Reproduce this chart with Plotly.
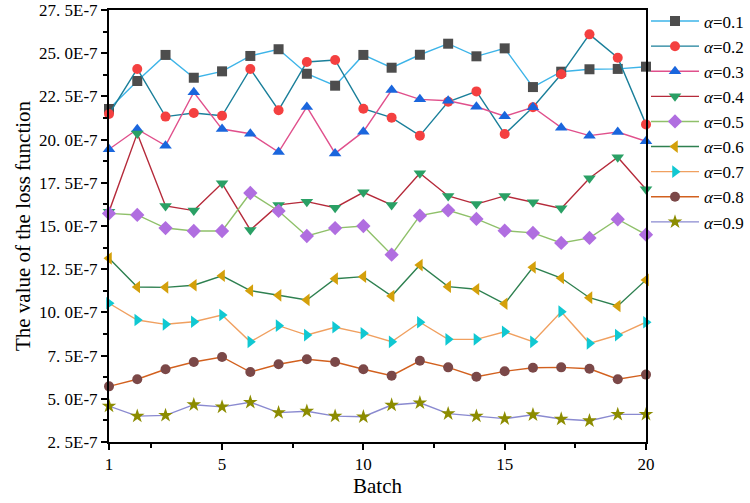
import plotly.graph_objects as go

batch = list(range(1, 21))
labels = ["0.1", "0.2", "0.3", "0.4", "0.5", "0.6", "0.7", "0.8", "0.9"]

a01 = [21.77, 23.39, 24.90, 23.58, 23.95, 24.84, 25.23, 23.81, 23.12, 24.90,
       24.16, 24.91, 25.55, 24.82, 25.28, 23.04, 23.93, 24.07, 24.09, 24.22]
a02 = [21.48, 24.09, 21.33, 21.54, 21.38, 24.09, 21.70, 24.49, 24.61, 21.79,
       21.27, 20.23, 22.19, 22.79, 20.32, 21.87, 23.78, 26.09, 24.74, 20.88]
a03 = [19.44, 20.60, 19.65, 22.74, 20.61, 20.34, 19.28, 21.89, 19.20, 20.46,
       22.87, 22.33, 22.25, 21.90, 21.35, 21.87, 20.69, 20.23, 20.44, 19.90]
a04 = [15.83, 20.36, 16.16, 15.89, 17.47, 14.77, 16.22, 16.41, 16.06, 16.95,
       16.22, 18.05, 16.74, 16.27, 16.74, 16.37, 16.02, 17.76, 18.98, 17.12]
a05 = [15.73, 15.64, 14.88, 14.71, 14.71, 16.91, 15.87, 14.42, 14.88, 15.00,
       13.34, 15.60, 15.91, 15.41, 14.73, 14.60, 14.02, 14.31, 15.39, 14.50]
a06 = [13.13, 11.47, 11.45, 11.57, 12.12, 11.26, 10.99, 10.72, 11.95, 12.07,
       10.95, 12.74, 11.49, 11.34, 10.50, 12.61, 11.99, 10.85, 10.37, 11.88]
a07 = [10.53, 9.56, 9.31, 9.46, 9.85, 8.30, 9.23, 8.69, 9.14, 8.79,
       8.30, 9.43, 8.44, 8.44, 8.88, 8.30, 10.04, 8.21, 8.69, 9.43]
a08 = [5.72, 6.13, 6.71, 7.13, 7.42, 6.55, 7.00, 7.29, 7.13, 6.71,
       6.34, 7.20, 6.82, 6.28, 6.59, 6.80, 6.82, 6.74, 6.13, 6.40]
a09 = [4.58, 4.00, 4.04, 4.66, 4.53, 4.80, 4.20, 4.28, 4.00, 3.96,
       4.64, 4.77, 4.14, 4.00, 3.85, 4.08, 3.83, 3.73, 4.10, 4.10]

series = [a01, a02, a03, a04, a05, a06, a07, a08, a09]

ytick_vals = [2.5, 5.0, 7.5, 10.0, 12.5, 15.0, 17.5, 20.0, 22.5, 25.0, 27.5]
ytick_text = ["2. 5E-7", "5. 0E-7", "7. 5E-7", "10. 0E-7", "12. 5E-7", "15. 0E-7",
              "17. 5E-7", "20. 0E-7", "22. 5E-7", "25. 0E-7", "27. 5E-7"]
xtick_vals = [1, 5, 10, 15, 20]
xminor_vals = [2.5, 7.5, 12.5, 17.5]

line_colors = ["#3db4e8", "#1a7f9a", "#e0508c", "#b52a3a", "#8fc06a",
               "#2e8050", "#f0a060", "#d2601e", "#8a8ad0"]
marker_colors = ["#4d4d4d", "#f44040", "#1a66dd", "#2aa065", "#b06ee0",
                 "#d4a00a", "#10c8d2", "#7b4848", "#8c8c00"]
symbols = ["square", "circle", "triangle-up", "triangle-down", "diamond",
           "triangle-left", "triangle-right", "circle", "star"]
msizes = [10, 10, 11, 11, 11, 11, 11, 10, 11]

fig = go.Figure()
for lab, ys, lc, mc, sym, ms in zip(labels, series, line_colors, marker_colors, symbols, msizes):
    fig.add_trace(go.Scatter(
        x=batch, y=ys, mode="lines+markers",
        name="<i>α</i>=" + lab,
        line=dict(color=lc, width=1.4),
        marker=dict(color=mc, symbol=sym, size=ms, line=dict(width=0)),
        cliponaxis=False,
    ))

serif = "Times New Roman, Liberation Serif, serif"
fig.update_layout(
    width=750, height=503,
    margin=dict(l=109, r=104, t=10, b=61, autoexpand=False),
    plot_bgcolor="white", paper_bgcolor="white",
    font=dict(family=serif, color="black"),
    showlegend=True,
    legend=dict(x=1.0, y=1.015, xanchor="left", yanchor="top",
                xref="paper", yref="paper",
                font=dict(family=serif, size=17, color="black"),
                bgcolor="rgba(0,0,0,0)", borderwidth=0,
                tracegroupgap=0, itemwidth=48),
    xaxis=dict(range=[1, 20], tickvals=xtick_vals, ticks="outside",
               ticklen=6, tickwidth=1.5, tickcolor="black",
               showline=True, linecolor="black", linewidth=2, mirror=True,
               showgrid=False, zeroline=False,
               tickfont=dict(family=serif, size=17),
               minor=dict(tickvals=xminor_vals, ticks="outside", ticklen=4,
                          tickwidth=1.5, tickcolor="black", showgrid=False),
               title=dict(text="Batch", font=dict(family=serif, size=21), standoff=4)),
    yaxis=dict(range=[2.5, 27.5], tickvals=ytick_vals, ticktext=ytick_text,
               ticks="outside", ticklen=6, tickwidth=1.5, tickcolor="black",
               showline=True, linecolor="black", linewidth=2, mirror=True,
               showgrid=False, zeroline=False,
               tickfont=dict(family=serif, size=17),
               minor=dict(dtick=1.25, tick0=2.5, ticks="outside", ticklen=4,
                          tickwidth=1.5, tickcolor="black", showgrid=False),
               title=dict(text="The value of the loss function",
                          font=dict(family=serif, size=21), standoff=3)),
)

fig.write_html("out.html")
